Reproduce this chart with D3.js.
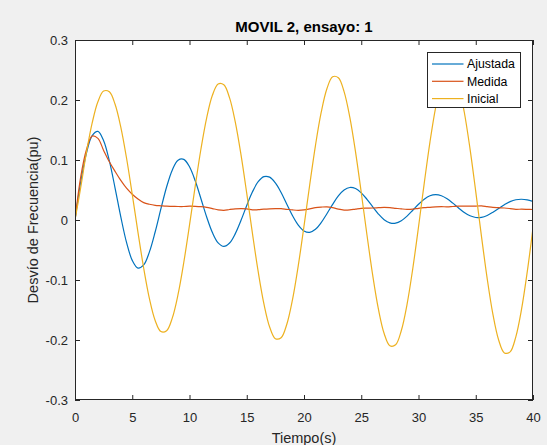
<!DOCTYPE html>
<html>
<head>
<meta charset="utf-8">
<script src="https://cdn.jsdelivr.net/npm/d3@7"></script>
<style>
  body { margin: 0; background: #f0f0f0; }
  svg { display: block; font-family: "Liberation Sans", Arial, Helvetica, sans-serif; }
</style>
</head>
<body>
<svg id="chart"></svg>
<script>
// Data (time step 0.5 s)
const tiempo = [
  0, 0.5, 1, 1.5, 2, 2.5, 3, 3.5, 4, 4.5,
  5, 5.5, 6, 6.5, 7, 7.5, 8, 8.5, 9, 9.5,
  10, 10.5, 11, 11.5, 12, 12.5, 13, 13.5, 14, 14.5,
  15, 15.5, 16, 16.5, 17, 17.5, 18, 18.5, 19, 19.5,
  20, 20.5, 21, 21.5, 22, 22.5, 23, 23.5, 24, 24.5,
  25, 25.5, 26, 26.5, 27, 27.5, 28, 28.5, 29, 29.5,
  30, 30.5, 31, 31.5, 32, 32.5, 33, 33.5, 34, 34.5,
  35, 35.5, 36, 36.5, 37, 37.5, 38, 38.5, 39, 39.5,
  40
];

const ajustada = [
  0, 0.0634, 0.1113, 0.1406, 0.1476, 0.1322, 0.0985, 0.0533, 0.0052, -0.0374,
  -0.0673, -0.0802, -0.0749, -0.0532, -0.0200, 0.0184, 0.0550, 0.0835, 0.0996, 0.1011,
  0.0887, 0.0653, 0.0355, 0.0050, -0.0209, -0.0381, -0.0440, -0.0384, -0.0227, -0.0005,
  0.0242, 0.0469, 0.0638, 0.0723, 0.0714, 0.0618, 0.0458, 0.0263, 0.0071, -0.0085,
  -0.0182, -0.0205, -0.0155, -0.0044, 0.0104, 0.0261, 0.0401, 0.0499, 0.0542, 0.0524,
  0.0453, 0.0345, 0.0219, 0.0099, 0.0005, -0.0047, -0.0053, -0.0012, 0.0065, 0.0162,
  0.0262, 0.0347, 0.0404, 0.0423, 0.0405, 0.0353, 0.0281, 0.0200, 0.0125, 0.0070,
  0.0042, 0.0045, 0.0076, 0.0129, 0.0192, 0.0255, 0.0307, 0.0338, 0.0346, 0.0335,
  0.0310
];

const medida = [
  0, 0.072, 0.117, 0.140, 0.136, 0.116, 0.097, 0.081, 0.066, 0.053,
  0.043, 0.035, 0.029, 0.0262, 0.0245, 0.0237, 0.023, 0.0228, 0.0225, 0.0225,
  0.023, 0.0228, 0.0222, 0.021, 0.019, 0.017, 0.0162, 0.0175, 0.0185, 0.0188,
  0.0185, 0.0168, 0.0172, 0.018, 0.0185, 0.0188, 0.0188, 0.0178, 0.0168, 0.0162,
  0.0168, 0.0185, 0.0205, 0.0215, 0.022, 0.0205, 0.018, 0.0165, 0.0168, 0.0182,
  0.0195, 0.0198, 0.020, 0.0205, 0.021, 0.0205, 0.0195, 0.0185, 0.0178, 0.0182,
  0.0195, 0.0205, 0.0212, 0.022, 0.0222, 0.022, 0.0225, 0.023, 0.0232, 0.023,
  0.0232, 0.0235, 0.0222, 0.021, 0.0205, 0.020, 0.019, 0.0178, 0.018, 0.0178,
  0.0175
];

const inicial = [
  0, 0.0543, 0.1125, 0.1617, 0.1970, 0.2149, 0.2136, 0.1929, 0.1549, 0.1033,
  0.0428, -0.0205, -0.0804, -0.1311, -0.1674, -0.1859, -0.1845, -0.1632, -0.1241, -0.0708,
  -0.0086, 0.0566, 0.1183, 0.1704, 0.2079, 0.2268, 0.2254, 0.2035, 0.1632, 0.1084,
  0.0443, -0.0227, -0.0862, -0.1398, -0.1783, -0.1978, -0.1962, -0.1737, -0.1323, -0.0759,
  -0.0101, 0.0588, 0.1241, 0.1792, 0.2187, 0.2387, 0.2371, 0.2140, 0.1714, 0.1135,
  0.0458, -0.0250, -0.0920, -0.1486, -0.1892, -0.2097, -0.2080, -0.1842, -0.1405, -0.0810,
  -0.0116, 0.0611, 0.1299, 0.1879, 0.2296, 0.2506, 0.2489, 0.2245, 0.1796, 0.1186,
  0.0473, -0.0272, -0.0977, -0.1573, -0.2000, -0.2216, -0.2198, -0.1947, -0.1487, -0.0861,
  -0.0131
];

const seriesNames = ["Ajustada", "Medida", "Inicial"];
const xTicks = [0, 5, 10, 15, 20, 25, 30, 35, 40];
const xTickLabels = ["0", "5", "10", "15", "20", "25", "30", "35", "40"];
const yTicks = [-0.3, -0.2, -0.1, 0, 0.1, 0.2, 0.3];
const yTickLabels = ["-0.3", "-0.2", "-0.1", "0", "0.1", "0.2", "0.3"];

// MATLAB default colours
const colors = {
  "Ajustada": "#0072BD",
  "Medida": "#D95319",
  "Inicial": "#EDB120"
};

const W = 547, H = 445;
const margin = { top: 40, right: 14, bottom: 45, left: 75 },
      width = W - margin.left - margin.right,
      height = H - margin.top - margin.bottom;

const axisColor = "#262626";

const svg = d3.select("#chart")
    .attr("width", W)
    .attr("height", H);

svg.append("rect")
    .attr("width", W)
    .attr("height", H)
    .attr("fill", "#f0f0f0");

const g = svg.append("g")
    .attr("transform", `translate(${margin.left},${margin.top})`);

// Plot area
g.append("rect")
    .attr("width", width)
    .attr("height", height)
    .attr("fill", "#fff");

const x = d3.scaleLinear().domain([0, 40]).range([0, width]);
const y = d3.scaleLinear().domain([-0.3, 0.3]).range([height, 0]);

g.append("clipPath").attr("id", "clip")
  .append("rect").attr("width", width).attr("height", height);

// Series lines (plotted in MATLAB order, Inicial last)
const seriesData = [ajustada, medida, inicial];
const line = d3.line()
    .x((d, i) => x(tiempo[i]))
    .y(d => y(d))
    .curve(d3.curveCatmullRom.alpha(0.5));

g.append("g")
    .attr("clip-path", "url(#clip)")
  .selectAll("path")
  .data(seriesNames)
  .join("path")
    .attr("fill", "none")
    .attr("stroke", d => colors[d])
    .attr("stroke-width", 1.2)
    .attr("d", (d, i) => line(seriesData[i]));

// Axes with inward ticks on all four sides
function styleAxis(sel) {
  sel.select(".domain").remove();
  sel.selectAll(".tick line").attr("stroke", axisColor);
  sel.selectAll(".tick text")
      .attr("fill", axisColor)
      .style("font-size", "13px")
      .style("font-family", "\"Liberation Sans\", Arial, Helvetica, sans-serif");
}

g.append("g")
    .attr("transform", `translate(0,${height})`)
    .call(d3.axisBottom(x).tickValues(xTicks).tickFormat((d, i) => xTickLabels[i])
      .tickSizeInner(-5).tickSizeOuter(0).tickPadding(13))
    .call(styleAxis);

g.append("g")
    .call(d3.axisTop(x).tickValues(xTicks).tickFormat("")
      .tickSizeInner(-5).tickSizeOuter(0))
    .call(styleAxis);

g.append("g")
    .call(d3.axisLeft(y).tickValues(yTicks).tickFormat((d, i) => yTickLabels[i])
      .tickSizeInner(-5).tickSizeOuter(0).tickPadding(7))
    .call(styleAxis);

g.append("g")
    .attr("transform", `translate(${width},0)`)
    .call(d3.axisRight(y).tickValues(yTicks).tickFormat("")
      .tickSizeInner(-5).tickSizeOuter(0))
    .call(styleAxis);

// Box
g.append("rect")
    .attr("x", 0.5)
    .attr("y", 0.5)
    .attr("width", width - 1)
    .attr("height", height - 1)
    .attr("fill", "none")
    .attr("stroke", axisColor)
    .attr("stroke-width", 1);

// Title
g.append("text")
    .attr("x", width / 2)
    .attr("y", -8)
    .attr("text-anchor", "middle")
    .style("font-size", "15px")
    .style("font-weight", "bold")
    .attr("fill", "#000")
    .text("MOVIL 2, ensayo: 1");

// X label
g.append("text")
    .attr("x", width / 2)
    .attr("y", height + 42.5)
    .attr("text-anchor", "middle")
    .style("font-size", "14.5px")
    .attr("fill", axisColor)
    .text("Tiempo(s)");

// Y label
g.append("text")
    .attr("transform", "rotate(-90)")
    .attr("x", -height / 2)
    .attr("y", -37.5)
    .attr("text-anchor", "middle")
    .style("font-size", "14.5px")
    .attr("fill", axisColor)
    .text("Desvío de Frecuencia(pu)");

// Legend
const legend = g.append("g")
    .attr("transform", `translate(${width - 105.5},12.5)`);

legend.append("rect")
    .attr("width", 93)
    .attr("height", 55)
    .attr("fill", "#fff")
    .attr("stroke", axisColor)
    .attr("stroke-width", 1);

const items = legend.selectAll("g.item")
  .data(seriesNames)
  .join("g")
    .attr("class", "item")
    .attr("transform", (d, i) => `translate(0,${11.5 + i * 17.3})`);

items.append("line")
    .attr("x1", 4.5)
    .attr("x2", 36)
    .attr("stroke", d => colors[d])
    .attr("stroke-width", 1.2);

items.append("text")
    .attr("x", 39.5)
    .attr("dy", "0.35em")
    .style("font-size", "12.3px")
    .attr("fill", "#000")
    .text(d => d);
</script>
</body>
</html>
